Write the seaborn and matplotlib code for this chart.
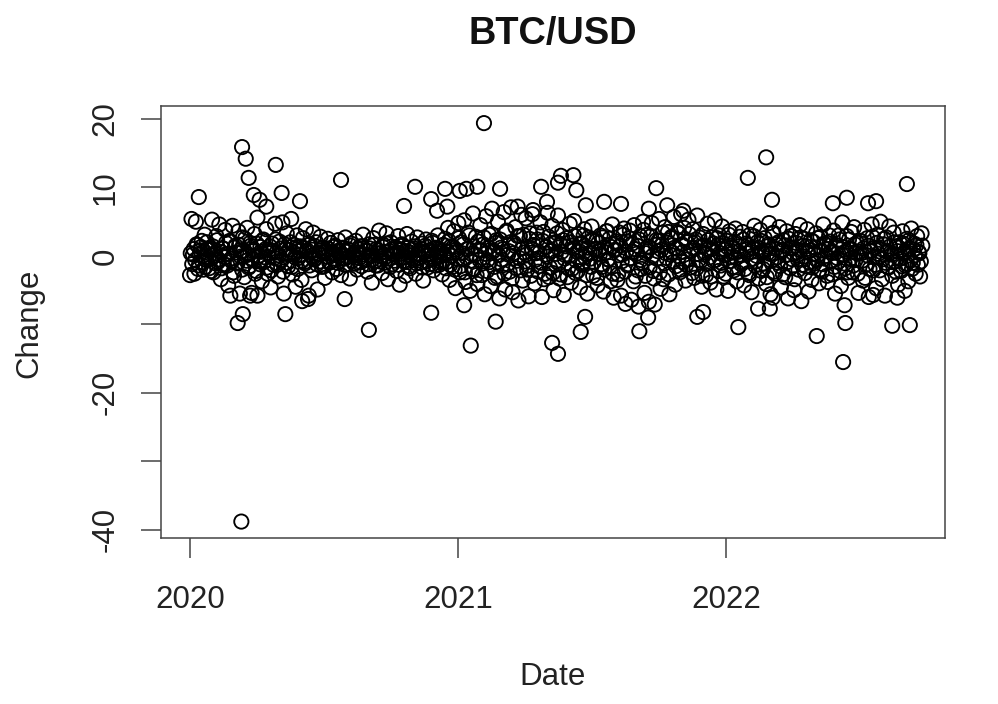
import pandas as pd
import matplotlib
matplotlib.use("Agg")
import matplotlib.pyplot as plt
import seaborn as sns

START_DATE = "2020-01-01"

# daily-change readings across the dense band, one every second day
band_changes = [
 -2.8, 5.4, 0.2, -2.6, 5.0, 1.6, -1.4, 0.8, 2.2, -2.0, 3.1, -0.6, 0.9, -1.8, 1.2, 5.3, -2.4, 0.4, 2.9, -0.9, 4.6, -3.4, 1.1, -1.2, 3.8,
 0.3, -4.3, 2.2, -0.4, 4.4, -2.9, 1.5, -1.1, 3.6, -5.5, 0.6, 2.7, -3.1, 0.1, 4.1, -1.7, 1.9, -5.4, 0.7, 3.2, -2.2, 5.6, -0.8, 1.3, -3.7,
 2.4, -0.2, 3.9, -2.6, 0.9, -4.6, 1.8, -1.3, 4.7, 0.5, -3.0, 2.1, -0.7, 4.9, -5.5, 1.0, 3.3, -1.5, 0.2, 5.4, -2.7, 1.6, -4.5, 3.0, -0.3,
 1.4, -3.5, 2.6, -0.9, 3.9, 0.8, -5.8, 1.7, -2.1, 3.4, -0.5, 2.0, -4.9, 0.4, 2.8, -1.6, 1.2, -3.2, 0.7, 2.5, -1.0, 1.9, -2.4, 0.3, 1.5,
 -1.9, 2.3, 0.6, -2.8, 1.1, -0.4, 2.7, -1.3, 0.9, -3.3, 1.8, 0.2, -1.1, 2.2, -2.0, 0.5, 1.4, -1.5, 3.1, -0.6, 0.8, -2.3, 1.7, 0.1, -3.9,
 2.6, -0.8, 1.0, -1.4, 3.7, 0.4, -2.5, 1.6, -0.2, 3.3, -3.4, 0.7, 2.0, -1.2, 0.3, 1.3, -2.2, 2.9, -4.2, 0.9, 1.5, -0.7, -2.9, 3.2, 0.6,
 -1.8, 2.1, -0.3, 1.1, -2.6, 2.7, 0.2, -1.0, 1.8, -3.6, 0.5, 2.4, -1.7, 0.8, -0.4, 2.2, -2.1, 1.2, 0.1, 3.0, -1.3, 0.7, -2.7, 1.6, 2.5,
 -0.9, 4.1, -3.5, 1.4, -1.6, 3.6, -4.7, 0.6, 4.8, -2.4, 2.0, -0.5, 5.2, -3.8, 1.0, 3.4, -5.1, 0.3, 6.2, -1.9, 2.8, -4.1, 0.9, 4.5, -2.8,
 1.7, -5.6, 5.8, -0.6, 3.1, -4.4, 6.9, 0.8, -3.2, 2.3, 5.0, -6.2, 1.2, -1.4, 6.4, -4.9, 3.7, 0.2, -2.3, 7.1, -5.3, 1.9, 4.2, -0.7, -6.5,
 2.9, 6.0, -3.6, 0.5, 5.5, -2.0, -5.9, 3.3, 1.1, 6.7, -4.0, 0.4, 2.4, -1.5, 4.9, -6.0, 3.5, -2.6, 1.3, 6.3, -3.1, 0.7, 4.4, -5.0, 2.0,
 -0.8, 5.9, -3.3, 1.6, 3.8, -5.7, 0.1, 2.6, -1.8, 4.7, -3.9, 1.5, 5.1, -2.5, 0.6, 3.2, -4.6, 1.9, -1.1, 3.9, 0.3, -5.5, 2.7, -0.4, 4.3,
 -2.9, 1.0, 2.2, -4.3, 0.8, 3.0, -1.6, -5.2, 1.3, 3.6, -0.5, 2.5, -3.7, 4.6, -6.1, 0.9, 1.8, -2.7, 3.4, -5.8, 0.2, 4.0, -7.0, 2.1, -1.2,
 3.7, -6.4, 0.6, 4.5, -3.0, 1.5, -7.4, 2.9, -1.9, 5.0, -5.4, 0.4, 3.1, -6.7, 1.2, 4.8, -2.2, -7.1, 2.3, 0.7, 5.4, -4.8, 1.7, -3.4, 4.2,
 -0.3, 3.5, -5.6, 2.6, 0.5, 5.7, -4.2, 1.1, 3.3, -2.4, 6.1, -0.9, 4.1, -3.6, 2.0, 5.3, -1.7, 0.8, 3.9, -3.2, 2.4, 5.9, -0.6, 1.4, -4.5,
 3.2, 0.2, -2.8, 4.7, 1.0, -3.9, 2.7, -0.7, 5.2, -4.9, 1.6, 3.0, -1.4, 4.3, -3.0, 0.9, 2.2, -5.1, 3.6, -0.2, 1.3, -2.1, 4.0, -3.7, 0.6,
 2.8, -1.2, 3.5, -4.3, 1.8, 0.4, -2.5, 3.1, -5.3, 1.1, 4.4, -0.8, 2.0, -3.3, 3.8, 0.7, -1.9, 2.6, -4.1, 1.4, 4.8, -5.6, 0.3, 3.4, -2.6,
 1.7, -1.0, 4.2, -4.6, 0.9, 2.3, -3.1, 3.6, -6.2, 1.2, 2.9, -0.5, -5.0, 3.2, 0.5, -2.0, 4.5, -6.6, 1.5, 2.5, -1.5, 3.9, -5.2, 0.8, -3.5,
 2.1, -1.1, 3.3, 0.1, -4.0, 2.8, -2.3, 4.6, -0.4, 1.6, -3.8, 3.0, 0.6, -2.7, 3.7, -5.5, 1.3, -0.9, 2.4, -4.4, 4.9, 0.2, -1.8, 2.9, -3.2,
 1.0, 3.5, -2.4, 4.2, -0.6, 1.9, -5.4, 2.2, 0.4, -3.6, 3.8, -1.3, 2.6, -6.0, 0.7, 4.6, -2.1, 1.2, -4.7, 3.1, -0.2, 5.0, -3.4, 1.7, -5.8,
 2.7, -1.6, 4.3, 0.5, -2.9, 3.4, -0.8, 1.4, -4.2, 2.0, -2.2, 3.6, 0.3, -1.4, 2.5, -3.7, 1.1, 4.0, -1.0, 1.8, -2.6, 2.9, 0.6, -3.0, 3.3,
]

# the darkest core of the band, read on the days in between
core_changes = [
 0.4, -1.2, 1.0, -0.6, 1.7, -1.9, 0.2, 1.3, -0.9, 0.7, -1.6, 2.0, -0.3, 0.9, -2.2, 1.4, 0.1, -1.1, 2.3, -0.5, 0.6, -1.8, 1.1, -0.2, 1.9,
 -1.4, 0.3, 2.1, -0.8, -2.4, 1.2, 0.5, -1.0, 1.6, -0.1, -2.0, 0.8, 2.5, -0.7, 0.2, -1.5, 1.5, -0.4, 0.9, -2.6, 1.8, 0.0, -1.2, 0.6, 2.2,
 -0.9, 1.0, -1.7, 0.4, 1.4, -2.1, 0.7, -0.3, 2.4, -1.3, 0.1, 1.1, -0.6, -2.3, 1.7, 0.3, -1.0, 0.9, 2.0, -1.6, 0.5, -0.2, 1.3, -1.9, 0.8,
 0.2, -0.7, 1.2, -1.1, 0.6, 1.6, -1.4, 0.0, 0.9, -0.5, 1.4, -1.2, 0.3, -0.8, 1.1, 0.5, -1.5, 0.7, -0.1, 1.0, -0.9, 0.4, 1.3, -0.6, 0.2,
 -1.0, 0.8, 0.1, -0.4, 1.2, -1.3, 0.6, -0.2, 0.9, 1.5, -0.7, 0.3, -1.1, 0.5, 1.0, -0.3, -0.9, 1.4, 0.2, -0.6, 0.7, -1.2, 1.1, 0.0, -0.5,
 1.6, -1.4, 0.4, 0.8, -0.8, -0.1, 1.3, -1.0, 0.6, 1.8, -0.4, -1.6, 0.9, 0.2, -0.7, 1.1, 0.5, -1.3, 0.3, 1.7, -0.2, -0.9, 0.7, 1.2, -1.5,
 0.1, 0.9, -0.6, 1.4, -1.1, 0.4, -0.3, 1.0, -1.7, 0.6, 1.5, -0.8, 0.2, -1.2, 0.8, 1.9, -0.5, -1.4, 0.5, 1.1, -0.1, -0.9, 1.6, 0.3, -1.8,
 0.7, 2.2, -1.3, 0.0, 1.3, -2.0, 0.9, -0.4, 2.6, -1.5, 0.4, 1.7, -2.4, -0.2, 1.0, 3.0, -0.7, -1.9, 1.4, 0.2, -2.8, 2.1, -0.6, 0.8, -1.1,
 2.7, 0.3, -2.2, 1.2, -0.9, 3.2, 0.6, -1.6, 1.9, -3.0, 0.1, 2.4, -0.5, 1.0, -2.6, 3.5, -1.2, 0.7, 2.0, -3.3, 0.4, 1.5, -1.8, 2.9, -0.3,
 -2.1, 1.1, 3.1, -0.8, 0.2, -1.4, 2.5, -2.9, 0.9, 1.6, -0.6, 3.4, -2.3, 0.5, -1.0, 2.2, -3.4, 1.3, -0.1, 2.8, -1.7, 0.8, -2.5, 1.8, 0.3,
 3.3, -1.1, -2.7, 0.6, 2.3, -0.4, 1.4, -3.1, 0.0, 2.0, -1.9, 1.1, 2.9, -0.7, -2.2, 0.7, 1.7, -1.3, 3.0, -0.2, -2.8, 1.2, 0.4, -1.6, 2.4,
 -0.9, 0.9, -3.2, 1.9, 0.2, -1.2, 2.7, -2.0, 0.5, 3.6, -0.5, -1.5, 1.3, -2.6, 0.8, 2.1, -3.5, 0.1, 1.5, -0.8, 3.1, -2.3, 0.6, -1.4, 2.6,
 -0.3, 1.8, -3.7, 1.0, 0.3, -2.1, 2.4, -0.6, -1.0, 3.8, -2.9, 0.7, 1.4, -1.7, 2.9, 0.0, -3.3, 1.6, -0.4, 2.2, -2.4, 0.9, 3.4, -1.1, 0.4,
 1.9, -2.7, 0.2, 2.8, -0.9, 1.2, -1.5, 3.5, -0.1, -2.0, 1.7, 0.6, 2.5, -1.3, -0.5, 3.2, 0.8, -2.5, 1.1, 2.0, -1.8, 0.3, 2.7, -0.7, -2.9,
 1.5, 0.5, -1.2, 2.3, -0.2, -3.0, 1.0, 1.8, -0.6, 2.6, -2.2, 0.4, -1.0, 1.9, 0.1, -2.6, 1.3, 3.1, -0.8, 0.7, -1.6, 2.1, -0.3, -2.4, 1.4,
 0.2, -0.9, 2.4, -1.9, 0.9, 1.6, -2.8, 0.6, -0.4, 2.9, -1.4, 0.0, 1.2, -2.1, 2.2, 0.5, -1.1, 0.8, -3.1, 1.7, 0.3, -0.7, 3.3, -2.3, 1.0,
 -0.2, 2.0, -1.5, 0.7, -2.7, 1.5, 0.1, -0.9, 2.5, -1.8, 1.1, 0.4, -3.4, 1.9, -0.5, 0.9, 2.7, -1.3, -0.1, -2.5, 1.4, 0.6, -1.0, 2.3, -1.7,
 0.3, 1.2, -0.6, 2.6, -2.0, 0.8, -1.2, 1.8, 0.0, -2.9, 1.0, 2.1, -0.8, 0.5, -1.6, 1.6, -0.3, 3.0, -2.2, 0.2, 1.3, -1.1, 0.7, -2.4, 2.4,
 -0.4, 0.9, -1.4, 1.7, 0.4, -2.6, 0.6, 2.2, -0.7, 1.1, -3.2, 0.1, 1.5, -1.9, 0.8, 2.8, -0.2, -1.3, 1.9, 0.3, -2.1, 1.0, -0.5, 2.5, -1.0,
 0.6, -1.7, 1.4, 0.2, -0.9, 2.0, -2.3, 0.7, 1.2, -0.4, -1.5, 1.8, 0.5, -1.1, 1.0, 2.3, -0.6, -1.9, 0.9, 0.1, 1.6, -1.3, 0.4, -0.8, 1.5,
]

# individually read outliers above and below the band
outlier_days = [12, 71, 76, 80, 87, 95, 104, 117, 125, 150, 206, 292, 307, 348, 329, 337, 351, 368, 377, 392,
                401, 423, 447, 467, 479, 487, 502, 506, 523, 527, 540, 565, 588, 626, 636, 651, 673, 761, 786, 794,
                877, 896, 925, 936, 978, 70, 55, 65, 72, 130, 82, 92, 161, 153, 244, 211, 329, 383, 374, 417,
                494, 502, 539, 533, 613, 625, 692, 700, 748, 775, 791, 795, 855, 894, 891, 958, 982, 893, 975, 965, 932]
outlier_changes = [8.6, 15.9, 14.2, 11.4, 8.9, 8.2, 7.2, 13.3, 9.2, 8.0, 11.1, 7.3, 10.1, 9.8, 8.3, 6.6, 7.2, 9.5, 9.8, 10.1,
                   19.4, 9.8, 7.2, 6.1, 10.1, 7.9, 10.7, 11.7, 11.8, 9.6, 7.4, 7.9, 7.6, 6.9, 9.9, 7.4, 6.6, 11.4, 14.4, 8.2,
                   7.7, 8.5, 7.7, 8.0, 10.5, -38.8, -5.8, -9.8, -8.5, -8.5, -5.8, -5.8, -6.3, -6.6, -10.8, -6.3, -8.3, -13.1, -7.2, -9.6,
                   -12.7, -14.3, -8.9, -11.1, -11.0, -9.0, -8.9, -8.2, -10.4, -7.7, -7.7, -6.1, -11.7, -9.8, -15.5, -10.2, -10.1, -7.2, -5.1, -6.1, -5.7]

year_ticks = ["2020-01-01", "2021-01-01", "2022-01-01"]
year_labels = ["2020", "2021", "2022"]
change_ticks = [-40, -30, -20, -10, 0, 10, 20]
change_labels = ["-40", "", "-20", "", "0", "10", "20"]

start = pd.Timestamp(START_DATE)
df = pd.concat([
    pd.DataFrame({"Date": pd.date_range(start, periods=len(band_changes), freq="2D"), "Change": band_changes}),
    pd.DataFrame({"Date": pd.date_range(start + pd.Timedelta(days=1), periods=len(core_changes), freq="2D"), "Change": core_changes}),
    pd.DataFrame({"Date": start + pd.to_timedelta(outlier_days, unit="D"), "Change": outlier_changes}),
], ignore_index=True)

sns.set_theme(style="white")
plt.rcParams["font.family"] = ["Liberation Sans", "DejaVu Sans"]

W, H = 998, 704
fig = plt.figure(figsize=(W / 100, H / 100), dpi=100)
ax = fig.add_axes([161 / W, 1 - 538 / H, (945 - 161) / W, (538 - 106) / H])

sns.scatterplot(data=df, x="Date", y="Change", ax=ax, s=105, marker="o",
                facecolor="none", edgecolor="#000000", linewidth=1.35, legend=False, clip_on=False)

ax.set_xlim(start - pd.Timedelta(days=39.6), start + pd.Timedelta(days=1030))
ax.set_ylim(-41.2, 21.9)
ax.set_xticks([pd.Timestamp(t) for t in year_ticks])
ax.set_xticklabels(year_labels)
ax.set_yticks(change_ticks)
ax.set_yticklabels(change_labels, rotation=90, va="center")
ax.tick_params(axis="both", length=14.5, width=1.1, color="#444444", labelsize=22.5,
               labelcolor="#222222", bottom=True, left=True)
ax.tick_params(axis="x", pad=19.5)
ax.tick_params(axis="y", pad=14.5)
for s in ax.spines.values():
    s.set_visible(True)
    s.set_color("#444444")
    s.set_linewidth(1.1)

ax.set_xlabel("")
ax.set_ylabel("")
fig.text(553 / W, 1 - 677 / H, "Date", ha="center", va="center", fontsize=22.5, color="#222222")
fig.text(29 / W, 1 - 323 / H, "Change", ha="center", va="center", rotation=90, fontsize=22.5, color="#222222")
fig.text(553 / W, 1 - 34 / H, "BTC/USD", ha="center", va="center", fontsize=27.4, fontweight="bold", color="#111111")

fig.savefig("out.png", dpi=100)
